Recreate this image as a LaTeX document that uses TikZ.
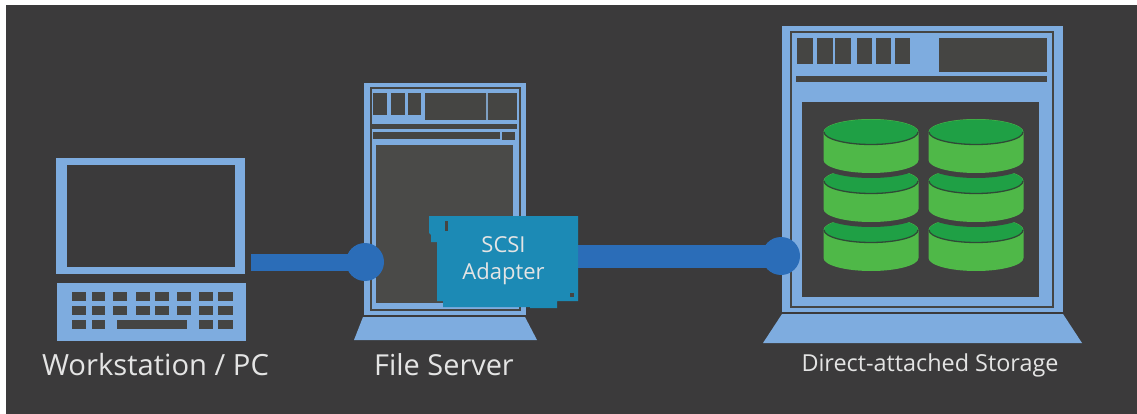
\documentclass[tikz,border=0pt]{standalone}
\usepackage{fontspec}
\setmainfont{Open Sans}
\definecolor{bgdark}{HTML}{3B3A3B}
\definecolor{frameblue}{HTML}{7EACDF}
\definecolor{panegrey}{HTML}{4A4A48}
\definecolor{slotgrey}{HTML}{454543}
\definecolor{storepane}{HTML}{404040}
\definecolor{wireblue}{HTML}{2B6DB8}
\definecolor{cardblue}{HTML}{1C8AB5}
\definecolor{disklight}{HTML}{4FB848}
\definecolor{diskdark}{HTML}{1FA045}
\definecolor{diskline}{HTML}{2F4A36}
\definecolor{labeltext}{HTML}{E4E4E4}
\tikzset{
  px/.style={x=1pt,y=-1pt},
  frame/.style={fill=frameblue},
  slot/.style={fill=slotgrey},
  thinline/.style={draw=slotgrey,line width=1.5pt},
  wire/.style={draw=wireblue,line cap=butt},
  portdot/.style={circle,fill=wireblue,minimum size=38pt,inner sep=0pt},
  caption/.style={text=labeltext,inner sep=0pt,anchor=base},
  diskbody/.style={fill=disklight},
  diskgap/.style={draw=storepane,line width=10pt},
}
% disk: #1 centre x, #2 top ellipse centre y
\newcommand{\diskpath}[2]{(#1-47.5,#2) -- (#1-47.5,#2+28) arc[start angle=180,end angle=0,x radius=47.5,y radius=13] -- (#1+47.5,#2) arc[start angle=0,end angle=-180,x radius=47.5,y radius=13] -- cycle}
\newcommand{\diskat}[2]{%
  \path[diskgap] (#1-47.5,#2+28) arc[start angle=180,end angle=0,x radius=47.5,y radius=13];
  \path[diskbody] \diskpath{#1}{#2};
  \fill[diskdark] (#1,#2) ellipse[x radius=47,y radius=12.5];
  \draw[diskline,line width=1.3pt] (#1-47,#2) arc[start angle=180,end angle=0,x radius=47,y radius=12.5];
}
\begin{document}
\begin{tikzpicture}[px]
\useasboundingbox (0,0) rectangle (1137,414);
\fill[white] (0,0) rectangle (1137,414);
\fill[bgdark] (6,5) rectangle (1137,414);

% --- workstation
\fill[frame] (56,158) rectangle (245,274);
\fill[bgdark] (66.5,165) rectangle (234.5,267);
\fill[frame] (57,283) rectangle (246,341);
\foreach \xa/\xb in {72/86,92/105,113/127,136/150,155/169,177/191,199/213,218/233}
  \foreach \ya/\yb in {292/301,306/315}
    \fill[slot] (\xa,\ya) rectangle (\xb,\yb);
\foreach \xa/\xb in {72/86,92/105,117/187,199/213,218/233}
  \fill[slot] (\xa,320) rectangle (\xb,329);
\node[caption,font=\fontsize{29.2}{36}\selectfont] (pclabel) at (155.5,375) {Workstation / PC};

% --- file server
\fill[frame] (364,83) rectangle (526,315);
\draw[thinline] (371,88) rectangle (520,310);
\foreach \xa/\xb in {373/387,391/405,408/421}
  \fill[slot] (\xa,93) rectangle (\xb,115);
\fill[slot] (425,93) rectangle (517,120);
\draw[frameblue!70!gray,line width=1.2pt] (487,93) -- (487,120);
\fill[slot] (372,124) rectangle (517,129);
\fill[slot] (373,132) rectangle (500,139);
\fill[slot] (502,132) rectangle (515,140);
\fill[panegrey] (376,145) rectangle (513,303);
\fill[frame] (363,317) -- (525,317) -- (537,340) -- (354,340) -- cycle;
\node[caption,font=\fontsize{28.9}{34}\selectfont] (serverlabel) at (444,375) {File Server};

% --- storage
\fill[frame] (782,26) rectangle (1063,312);
\draw[thinline] (791,32) rectangle (1053,307);
\foreach \xa/\xb in {797/813,817/833,835/851,857/872,876/891,895/910}
  \fill[slot] (\xa,38) rectangle (\xb,64);
\fill[slot] (939,38) rectangle (1047,72);
\fill[slot] (796,76) rectangle (1047,82);
\fill[storepane] (802,102) rectangle (1039,297);
\fill[frame] (782,314) -- (1063,314) -- (1082,343) -- (763,343) -- cycle;
\foreach \cx in {871,976}{
  \diskat{\cx}{230}
  \diskat{\cx}{181}
  \diskat{\cx}{132}
}
\node[caption,font=\fontsize{23.4}{29}\selectfont] (storagelabel) at (930,371) {Direct-attached Storage};

% --- connectors
\coordinate (pcport) at (251,262);
\coordinate (cardport) at (560,256);
\node[portdot] (dotserver) at (365,262) {};
\node[portdot] (dotstorage) at (781,256) {};
\draw[wire,line width=17pt] (pcport) -- (dotserver.center);
\draw[wire,line width=23pt] (cardport) -- (dotstorage.center);

% --- adapter card
\fill[cardblue] (429,216) -- (578,216) -- (578,301) -- (557,301) -- (557,308)
  -- (530,308) -- (530,307) -- (443,307) -- (443,301) -- (437,301) -- (437,242)
  -- (431,242) -- (431,235) -- (429,233) -- cycle;
\fill[slotgrey] (444.5,221) rectangle (447.5,231);
\fill[slotgrey] (570,293) rectangle (574,297);
\node[caption,font=\fontsize{22}{27}\selectfont] (scsi) at (503.5,252) {SCSI};
\node[caption,font=\fontsize{22}{27}\selectfont] (adapterlabel) at (503.5,279) {Adapter};
\end{tikzpicture}
\end{document}
